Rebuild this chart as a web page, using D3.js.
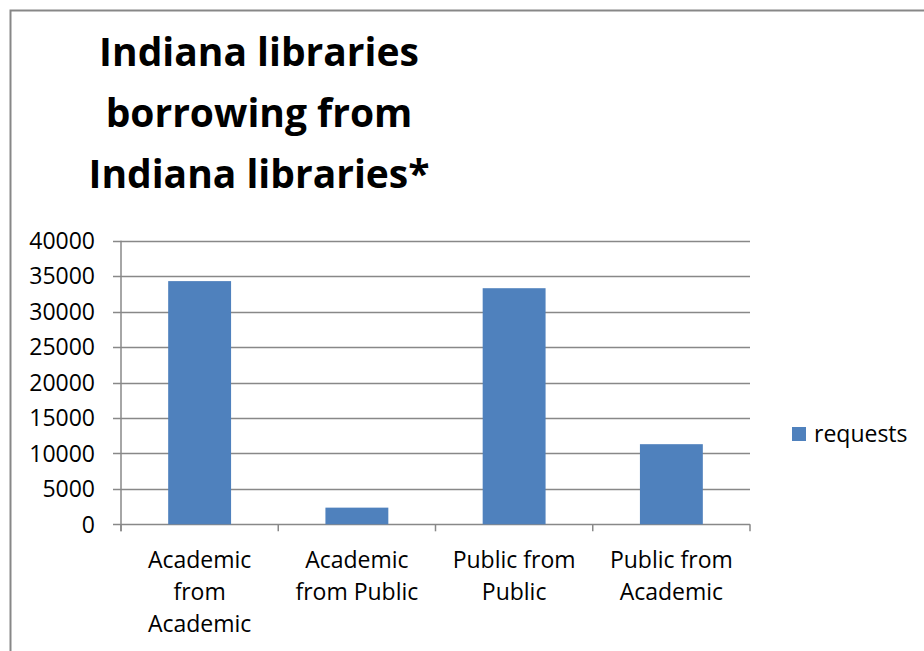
<!DOCTYPE html>
<html>
<head>
<meta charset="utf-8">
<script src="https://cdn.jsdelivr.net/npm/d3@7"></script>
<style>
  body { margin: 0; background: #fff; }
  text { font-family: "Open Sans", sans-serif; }
</style>
</head>
<body>
<div id="chart"></div>
<script>
// data
var categories = ["Academic from Academic", "Academic from Public", "Public from Public", "Public from Academic"];
var labelLines = [["Academic", "from", "Academic"], ["Academic", "from Public"], ["Public from", "Public"], ["Public from", "Academic"]];
var requests = [34300, 2350, 33300, 11300];
var yTicks = [0, 5000, 10000, 15000, 20000, 25000, 30000, 35000, 40000];
var titleLines = ["Indiana libraries", "borrowing from", "Indiana libraries*"];

var W = 924, H = 651;
var plotLeft = 121, plotRight = 750, plotTop = 240.7, plotBottom = 524.3;

var svg = d3.select("#chart").append("svg")
  .attr("width", W).attr("height", H);

// outer frame (only top and left visible)
svg.append("rect")
  .attr("x", 10.5).attr("y", 10.5)
  .attr("width", W + 20).attr("height", H + 20)
  .attr("fill", "none").attr("stroke", "#878787").attr("stroke-width", 2);

var x = d3.scaleBand().domain(categories).range([plotLeft, plotRight]).paddingInner(0.6).paddingOuter(0.3);
var band = d3.scaleBand().domain(categories).range([plotLeft, plotRight]);
var y = d3.scaleLinear().domain([0, 40000]).range([plotBottom, plotTop]);

// gridlines
svg.append("g").selectAll("line")
  .data(yTicks)
  .enter().append("line")
  .attr("x1", plotLeft - 8).attr("x2", plotRight)
  .attr("y1", function(d) { return Math.round(y(d)) + 0.5; })
  .attr("y2", function(d) { return Math.round(y(d)) + 0.5; })
  .attr("stroke", "#888").attr("stroke-width", 1.5);

// y labels
svg.append("g").selectAll("text")
  .data(yTicks)
  .enter().append("text")
  .attr("x", 95).attr("y", function(d) { return y(d); })
  .attr("dy", "0.36em")
  .attr("text-anchor", "end")
  .attr("font-size", 23)
  .attr("fill", "#000")
  .text(function(d) { return d; });

// bars
svg.append("g").selectAll("rect")
  .data(requests)
  .enter().append("rect")
  .attr("x", function(d, i) { return x(categories[i]); })
  .attr("width", x.bandwidth())
  .attr("y", function(d) { return y(d); })
  .attr("height", function(d) { return plotBottom - y(d); })
  .attr("fill", "#4F81BD");

// y axis line
svg.append("line")
  .attr("x1", plotLeft).attr("x2", plotLeft)
  .attr("y1", plotTop).attr("y2", plotBottom + 7)
  .attr("stroke", "#888").attr("stroke-width", 1.5);

// x ticks
var xt = categories.map(function(c) { return band(c); }).concat([plotRight]);
svg.append("g").selectAll("line")
  .data(xt)
  .enter().append("line")
  .attr("x1", function(d) { return d; }).attr("x2", function(d) { return d; })
  .attr("y1", plotBottom).attr("y2", plotBottom + 7)
  .attr("stroke", "#888").attr("stroke-width", 1.5);

// x labels
var xl = svg.append("g").selectAll("text")
  .data(labelLines)
  .enter().append("text")
  .attr("text-anchor", "middle")
  .attr("font-size", 23)
  .attr("fill", "#000");
xl.selectAll("tspan")
  .data(function(d, i) { return d.map(function(s) { return { s: s, i: i }; }); })
  .enter().append("tspan")
  .attr("x", function(d) { return band(categories[d.i]) + band.bandwidth() / 2; })
  .attr("y", function(d, j) { return 568 + j * 32; })
  .text(function(d) { return d.s; });

// title
svg.append("g").selectAll("text")
  .data(titleLines)
  .enter().append("text")
  .attr("x", 259).attr("y", function(d, i) { return 66 + i * 61; })
  .attr("text-anchor", "middle")
  .attr("font-size", 39)
  .attr("font-weight", "bold")
  .attr("fill", "#000")
  .text(function(d) { return d; });

// legend
svg.append("rect")
  .attr("x", 792).attr("y", 427).attr("width", 14).attr("height", 14)
  .attr("fill", "#4F81BD");
svg.append("text")
  .attr("x", 814).attr("y", 442)
  .attr("font-size", 23)
  .attr("fill", "#000")
  .text("requests");
</script>
</body>
</html>
